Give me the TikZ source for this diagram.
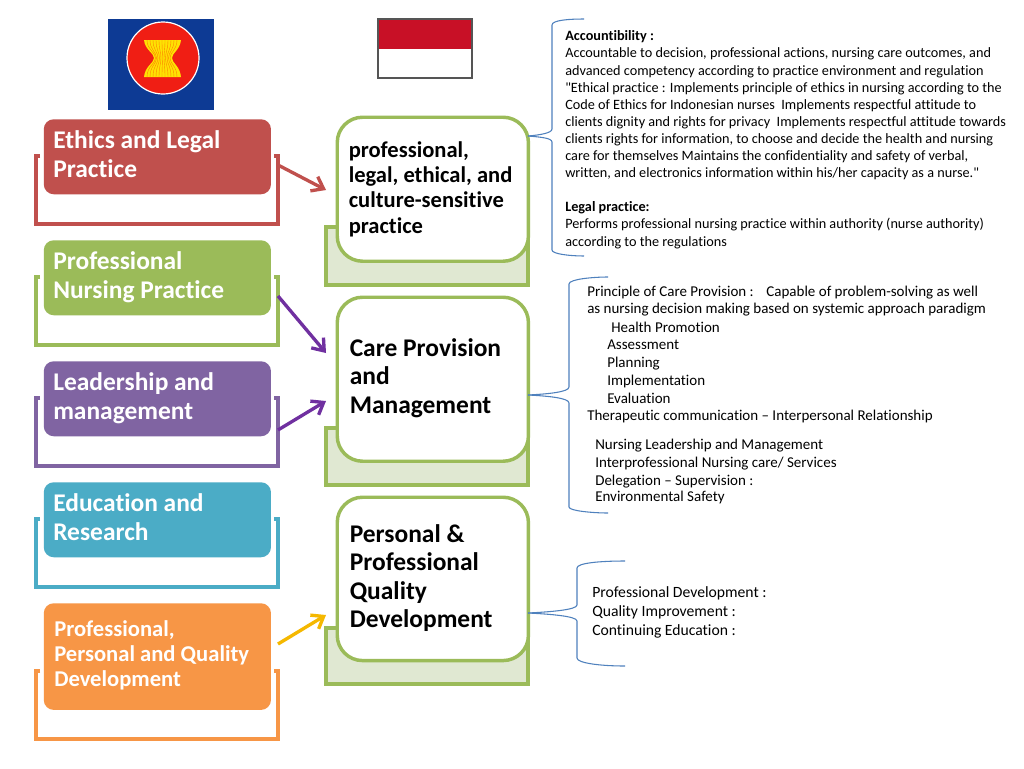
\documentclass[tikz,border=0pt]{standalone}
\usepackage{fontspec}
\setmainfont{Carlito}[Ligatures={NoCommon,TeXOff}]
\usetikzlibrary{arrows.meta,calc}
\definecolor{cred}{HTML}{C0504D}
\definecolor{cgreen}{HTML}{9BBB59}
\definecolor{cpurple}{HTML}{8064A2}
\definecolor{cteal}{HTML}{4BACC6}
\definecolor{corange}{HTML}{F79646}
\definecolor{cpale}{HTML}{E0E8D2}
\definecolor{cbrace}{HTML}{4F81BD}
\definecolor{darkpurple}{HTML}{7030A0}
\definecolor{cyellow}{HTML}{F5B800}
\tikzset{
  x=0.75pt,y=-0.75pt,
  headbox/.style={rectangle,rounded corners=7.5pt,minimum width=170.4pt,inner sep=0pt,fill=#1,draw=none,anchor=north west},
  headtext/.style={font=\fontsize{19.1}{21.4}\selectfont\bfseries,text=white,align=left,anchor=north west,inner sep=0pt},
  bracketline/.style={line width=2.4pt,draw=#1},
  backbox/.style={fill=cpale,draw=cgreen,line width=2.6pt},
  mainbox/.style={rectangle,rounded corners=19pt,fill=white,draw=cgreen,line width=2.6pt,minimum width=143.4pt,inner sep=0pt,anchor=north west},
  maintext/.style={font=\fontsize{19.1}{21.4}\selectfont\bfseries,align=left,anchor=north west,inner sep=0pt},
  bodytext/.style={font=\fontsize{10.68}{12.85}\selectfont,align=left,anchor=north west,inner sep=0pt},
  bodylower/.style={font=\fontsize{11.25}{12.85}\selectfont,align=left,anchor=north west,inner sep=0pt},
  bodylast/.style={font=\fontsize{11.75}{12.85}\selectfont,align=left,anchor=north west,inner sep=0pt},
  brace/.style={draw=cbrace,line width=0.8pt},
  arrowline/.style={line width=2.5pt,draw=#1,-{Straight Barb[length=8pt,width=12pt,line width=2.5pt]}},
}
\begin{document}
\begin{tikzpicture}
\useasboundingbox (0,0) rectangle (1024,768);
\fill[white] (0,0) rectangle (1024,768);

% ASEAN flag
\fill[fill={rgb,255:red,13;green,58;blue,148}] (108,19) rectangle (214,110);
\node (asean) [circle,fill={rgb,255:red,240;green,30;blue,20},draw=white,line width=0.9pt,minimum width=54pt,inner sep=0pt] at (163,58) {};
\fill[yellow!85!orange] (144,40) -- (181,40) .. controls (180,50) and (172,53) .. (172,58) .. controls (172,63) and (180,66) .. (181,77) -- (144,77) .. controls (145,66) and (154,63) .. (154,58) .. controls (154,53) and (145,50) .. (144,40) -- cycle;
\foreach \xa/\xb in {147/155.5,150/156.5,153/158,156/159.5,159/161,162/162.5,165/164,168/165.5,171/167,174/168.5,177/170}{
  \draw[orange,line width=0.3pt] (\xa,40) .. controls (\xa,50) and (\xb,52) .. (\xb,58) .. controls (\xb,64) and (\xa,66) .. (\xa,77);
}

% Indonesian flag
\fill[white] (378,19) rectangle (472,78);
\fill[fill={rgb,255:red,200;green,16;blue,38}] (378,19) rectangle (472,49);
\draw[draw={rgb,255:red,85;green,85;blue,85},line width=0.8pt] (378,19) rectangle (472,78);

% brackets behind the left boxes
\draw[bracketline=cred] (40,156) -- (36,156) -- (36,224) -- (278,224) -- (278,156) -- (274,156);
\draw[bracketline=cgreen] (40,277) -- (36,277) -- (36,345) -- (278,345) -- (278,277) -- (274,277);
\draw[bracketline=cpurple] (40,398) -- (36,398) -- (36,466) -- (278,466) -- (278,398) -- (274,398);
\draw[bracketline=cteal] (40,519) -- (36,519) -- (36,587) -- (278,587) -- (278,519) -- (274,519);
\draw[bracketline=corange] (40,671) -- (36,671) -- (36,739) -- (278,739) -- (278,671) -- (274,671);

% left boxes
\node (ethics) [headbox=cred,minimum height=56.25pt] at (43.5,119) {};
\node (nursing) [headbox=cgreen,minimum height=56.25pt] at (43.5,240) {};
\node (leader) [headbox=cpurple,minimum height=56.25pt] at (43.5,361) {};
\node (educ) [headbox=cteal,minimum height=56.25pt] at (43.5,482) {};
\node (quality) [headbox=corange,minimum height=80pt] at (43.5,603) {};
\node [headtext] at (53,130.5) {Ethics and Legal\\Practice};
\node [headtext] at (53,251.5) {Professional\\Nursing Practice};
\node [headtext] at (53,372.5) {Leadership and\\management};
\node [headtext] at (53,493.5) {Education and\\Research};
\node [headtext,font=\fontsize{16.95}{18.9}\selectfont\bfseries] at (54,620) {Professional,\\Personal and Quality\\Development};

% centre back boxes
\draw[backbox] (326,227) rectangle (528,285);
\draw[backbox] (326,428) rectangle (528,485);
\draw[backbox] (326,628) rectangle (528,684);

% centre boxes
\node (c1) [mainbox,minimum height=108pt] at (335.5,115.5) {};
\node (c2) [mainbox,minimum height=123pt] at (335.5,295.5) {};
\node (c3) [mainbox,minimum height=122.5pt] at (335.5,495.5) {};
\node [maintext,font=\fontsize{16.9}{18.9}\selectfont\bfseries] at (348.5,141.5) {professional,\\legal, ethical, and\\culture-sensitive\\practice};
\node [maintext] at (349.5,338) {Care Provision\\and\\Management};
\node [maintext] at (349.5,524) {Personal \&\\Professional\\Quality\\Development};

% arrows
\coordinate (e1) at (278,165);
\coordinate (t1) at (326,190);
\coordinate (e2) at (278,296);
\coordinate (t2) at (326,353);
\coordinate (e3) at (278,430);
\coordinate (t3) at (326,401);
\coordinate (e5) at (278,644);
\coordinate (t5) at (326,615);
\draw[arrowline=cred] (e1) -- (t1);
\draw[arrowline=darkpurple] (e2) -- (t2);
\draw[arrowline=darkpurple] (e3) -- (t3);
\draw[arrowline=cyellow] (e5) -- (t5);

% braces
\coordinate (b1) at (528,136);
\coordinate (b2) at (528,395);
\coordinate (b3) at (528,613);
\draw[brace] (584,19) .. controls (570,19) and (552,20) .. (552,25) -- (552,129) .. controls (552,133) and (540,135) .. (b1);
\draw[brace] (b1) .. controls (540,137) and (552,138) .. (552,142) -- (552,250) .. controls (552,254) and (570,256) .. (584,256);
\draw[brace] (608,277) .. controls (594,277) and (569,279) .. (569,284) -- (569,387) .. controls (569,392) and (548,394) .. (b2);
\draw[brace] (b2) .. controls (548,396) and (569,398) .. (569,403) -- (569,507) .. controls (569,511) and (594,513) .. (608,513);
\draw[brace] (625,561) .. controls (600,561) and (577,563) .. (577,568) -- (577,605) .. controls (577,610) and (548,612) .. (b3);
\draw[brace] (b3) .. controls (548,614) and (577,616) .. (577,621) -- (577,658) .. controls (577,663) and (600,666) .. (625,666);

% right text
\node (acc) [bodytext] at (565,30.5) {\textbf{Accountibility :}\\
Accountable to decision, professional actions, nursing care outcomes, and\\
advanced competency according to practice environment and regulation\\
"Ethical practice : Implements principle of ethics in nursing according to the\\
Code of Ethics for Indonesian nurses\ \ Implements respectful attitude to\\
clients dignity and rights for privacy\ \ Implements respectful attitude towards\\
clients rights for information, to choose and decide the health and nursing\\
care for themselves Maintains the confidentiality and safety of verbal,\\
written, and electronics information within his/her capacity as a nurse."};
\node (legal) [bodytext] at (565,201.5) {\textbf{Legal practice:}\\
Performs professional nursing practice within authority (nurse authority)\\
according to the regulations};
\node (care) [bodylower] at (587,286) {Principle of Care Provision :\ \ \ \,Capable of problem-solving as well\\
as nursing decision making based on systemic approach paradigm};
\node [bodylower] at (611,322) {Health Promotion};
\node [bodylower] at (607,340) {Assessment\\[0.6pt]Planning\\[0.6pt]Implementation\\[0.6pt]Evaluation};
\node [bodylower] at (587,410) {Therapeutic communication – Interpersonal Relationship};
\node [bodylower] at (595,439) {Nursing Leadership and Management\\[0.6pt]
Interprofessional Nursing care/ Services\\[0.6pt]
Delegation – Supervision :};
\node [bodylower] at (595,491) {Environmental Safety};
\node [bodylast] at (592,586) {Professional Development :\\[1.4pt]Quality Improvement :\\[1.4pt]Continuing Education :};
\end{tikzpicture}
\end{document}
